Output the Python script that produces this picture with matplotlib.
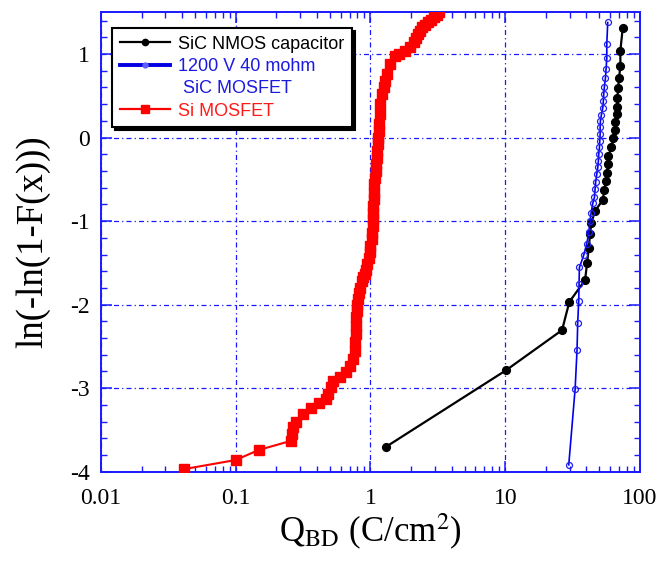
import matplotlib
matplotlib.use("Agg")
import matplotlib.pyplot as plt
from matplotlib.lines import Line2D
from matplotlib.ticker import FixedLocator, FixedFormatter, LogLocator, MultipleLocator, NullFormatter

# ---------------- data ----------------
sic_cap_x = [1.31, 10.15, 26.4, 29.9, 39.1, 40.5, 41.7, 42.6, 43.6, 46.4, 52.9, 54.4, 56.0,
             57.0, 57.6, 58.3, 61.4, 63.5, 64.9, 65.7, 67.2, 67.6, 68.0, 68.8, 69.9, 71.5,
             71.5, 74.4]
sic_cap_y = [-3.70, -2.785, -2.305, -1.967, -1.707, -1.503, -1.316, -1.156, -1.017, -0.877,
             -0.749, -0.625, -0.517, -0.418, -0.318, -0.218, -0.118, -0.006, 0.09, 0.181,
             0.281, 0.372, 0.473, 0.593, 0.713, 0.856, 1.04, 1.31]

sic_mos_x = [29.6, 33.0, 34.1, 34.5, 35.1, 35.3, 35.5, 38.2, 40.3, 41.7, 42.6, 43.4, 44.6,
             45.9, 46.4, 46.9, 47.8, 48.6, 49.1, 49.4, 50.0, 50.3, 50.6, 50.6, 50.8, 51.7,
             52.9, 53.5, 53.8, 54.4, 55.4, 56.0, 56.7, 56.7, 57.6]
sic_mos_y = [-3.918, -3.01, -2.54, -2.214, -1.955, -1.747, -1.555, -1.41, -1.268, -1.136,
             -0.996, -0.897, -0.789, -0.717, -0.617, -0.529, -0.437, -0.358, -0.278, -0.198,
             -0.118, -0.038, 0.042, 0.121, 0.193, 0.273, 0.353, 0.44, 0.521, 0.608, 0.713,
             0.82, 0.952, 1.12, 1.378]

si_mos_x = [0.041, 0.100, 0.148, 0.258, 0.262, 0.268, 0.281, 0.318, 0.363, 0.414, 0.464,
            0.482, 0.511, 0.531, 0.589, 0.660, 0.700, 0.740, 0.761, 0.768, 0.774, 0.778,
            0.783, 0.790, 0.797, 0.81, 0.825, 0.84, 0.86, 0.88, 0.905, 0.93, 0.95, 0.97,
            0.99, 1.00, 1.02, 1.03, 1.04, 1.04, 1.045, 1.05, 1.055, 1.06, 1.07, 1.08, 1.09,
            1.10, 1.11, 1.12, 1.13, 1.14, 1.15, 1.16, 1.17, 1.18, 1.21, 1.25, 1.29, 1.33,
            1.40, 1.51, 1.64, 1.79, 1.95, 2.12, 2.18, 2.24, 2.33, 2.42, 2.55, 2.66, 2.82,
            2.98, 3.10, 3.21]
si_mos_y = [-3.97, -3.86, -3.74, -3.63, -3.55, -3.47, -3.41, -3.31, -3.24, -3.18, -3.13,
            -3.07, -2.98, -2.91, -2.87, -2.81, -2.73, -2.65, -2.55, -2.45, -2.35, -2.25,
            -2.15, -2.08, -2.01, -1.93, -1.86, -1.80, -1.72, -1.67, -1.63, -1.58, -1.51,
            -1.44, -1.37, -1.30, -1.22, -1.14, -1.06, -0.98, -0.90, -0.82, -0.74, -0.66,
            -0.56, -0.48, -0.40, -0.32, -0.24, -0.16, -0.08, 0.00, 0.08, 0.16, 0.28, 0.40,
            0.52, 0.60, 0.68, 0.76, 0.88, 0.98, 1.00, 1.04, 1.08, 1.14, 1.19, 1.24, 1.28,
            1.32, 1.35, 1.38, 1.41, 1.44, 1.47, 1.50]

x_ticks = [0.01, 0.1, 1, 10, 100]
x_tick_labels = ["0.01", "0.1", "1", "10", "100"]
y_ticks = [-4, -3, -2, -1, 0, 1]
y_tick_labels = ["-4", "-3", "-2", "-1", "0", "1"]

labels = ["SiC NMOS capacitor", "1200 V 40 mohm", " SiC MOSFET", "Si MOSFET"]

# ---------------- figure ----------------
plt.rcParams["mathtext.fontset"] = "stix"
BLUE = "#1a1aff"
fig = plt.figure(figsize=(6.61, 5.61), dpi=100)
ax = fig.add_axes([101 / 661, 1 - 471.7 / 561, 539 / 661, 459.4 / 561])

l1, = ax.plot(sic_cap_x, sic_cap_y, color="black", lw=1.6, marker="o", ms=5.6,
              mfc="black", mec="black", zorder=4)
l2, = ax.plot(sic_mos_x, sic_mos_y, color="#0000f0", lw=1.2, marker="o", ms=4.3,
              mfc="none", mec="#2020f0", mew=0.9, zorder=4)
l3, = ax.plot(si_mos_x, si_mos_y, color="#ff0000", lw=1.5, marker="s", ms=6.8,
              mfc="#ff0000", mec="#ff0000", zorder=4)

ax.set_xscale("log")
ax.set_xlim(0.01, 100)
ax.set_ylim(-4, 1.5)

ax.xaxis.set_major_locator(FixedLocator(x_ticks))
ax.xaxis.set_major_formatter(FixedFormatter(x_tick_labels))
ax.xaxis.set_minor_locator(LogLocator(base=10, subs=range(2, 10), numticks=20))
ax.xaxis.set_minor_formatter(NullFormatter())
ax.yaxis.set_major_locator(FixedLocator(y_ticks))
ax.yaxis.set_major_formatter(FixedFormatter(y_tick_labels))
ax.yaxis.set_minor_locator(MultipleLocator(0.2))

for s in ax.spines.values():
    s.set_color(BLUE)
    s.set_linewidth(1.4)

ax.tick_params(which="both", direction="in", top=True, right=True, colors=BLUE,
               labelcolor="black")
ax.tick_params(which="major", length=8, width=1.1)
ax.tick_params(which="minor", length=4, width=1.0)
ax.tick_params(axis="x", which="major", pad=12)
ax.tick_params(axis="y", which="major", pad=8)
for lab in ax.get_xticklabels() + ax.get_yticklabels():
    lab.set_family("Liberation Serif")
    lab.set_fontsize(17)

ax.grid(True, which="major", color=BLUE, linestyle=(0, (4, 2.5, 1, 2.5)), linewidth=0.9)

ax.set_xlabel(r"Q$_{\mathrm{BD}}$ (C/cm$^{2}$)", family="Liberation Serif", fontsize=25,
              labelpad=2)
ax.set_ylabel("ln(-ln(1-F(x)))", family="Liberation Serif", fontsize=26.5, labelpad=14)

# legend handles (styled like the plotted series, smaller markers)
h1 = Line2D([], [], color="black", lw=1.6, marker="o", ms=4.5, mfc="black", mec="black")
h2 = Line2D([], [], color="#0000e0", lw=2.8, marker="o", ms=3.5, mfc="#6060ff", mec="#6060ff")
h_blank = Line2D([], [], color="none", lw=0, marker=None)
h3 = Line2D([], [], color="#ff0000", lw=1.6, marker="s", ms=5.5, mfc="#ff0000", mec="#ff0000")

leg = ax.legend(handles=[h1, h2, h_blank, h3], labels=labels, loc="upper left",
                bbox_to_anchor=(0.0204, 0.966),
                borderaxespad=0, frameon=True, fancybox=False,
                shadow={"color": "black", "alpha": 1.0},
                prop={"family": "Liberation Sans", "size": 13},
                handlelength=2.8, handletextpad=0.45, labelspacing=0.3,
                borderpad=0.42)
leg.get_frame().set_edgecolor("black")
leg.get_frame().set_linewidth(1.5)
leg.set_zorder(10)
txt_colors = ["black", "#1a1ae0", "#1a1ae0", "#ff1a1a"]
for t, c in zip(leg.get_texts(), txt_colors):
    t.set_color(c)

fig.savefig("out.png", dpi=100)
